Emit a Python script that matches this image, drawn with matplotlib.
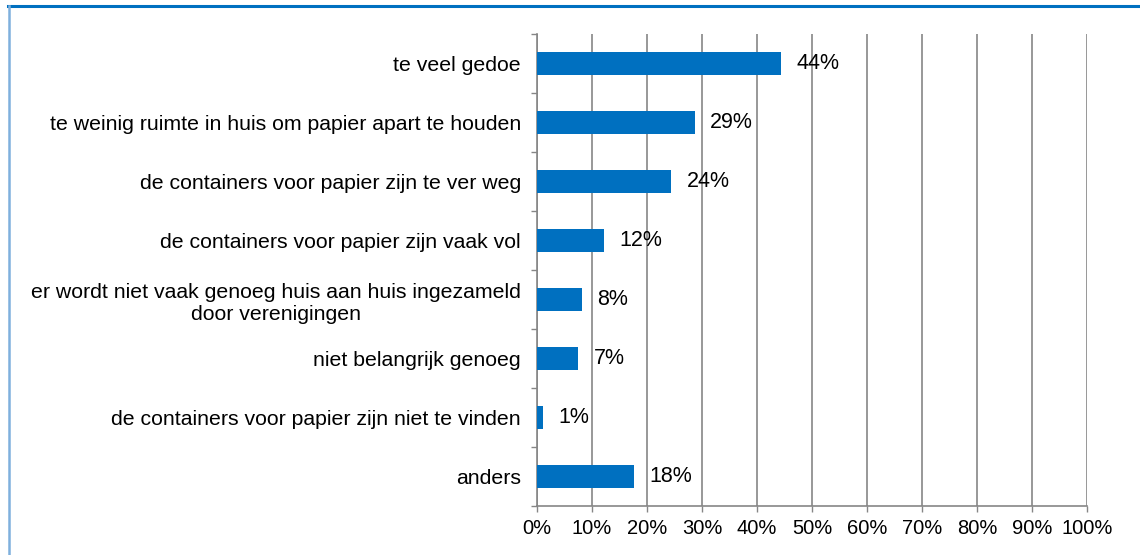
import matplotlib
matplotlib.use("Agg")
import matplotlib.pyplot as plt
import numpy as np
from matplotlib.lines import Line2D

categories = [
    "te veel gedoe",
    "te weinig ruimte in huis om papier apart te houden",
    "de containers voor papier zijn te ver weg",
    "de containers voor papier zijn vaak vol",
    "er wordt niet vaak genoeg huis aan huis ingezameld\ndoor verenigingen",
    "niet belangrijk genoeg",
    "de containers voor papier zijn niet te vinden",
    "anders",
]
values = [44.4, 28.7, 24.4, 12.2, 8.2, 7.5, 1.1, 17.6]
value_labels = ["44%", "29%", "24%", "12%", "8%", "7%", "1%", "18%"]
xticks = list(range(0, 101, 10))
xtick_labels = [f"{t}%" for t in xticks]

plt.rcParams['font.family'] = ['Liberation Sans', 'DejaVu Sans']

fig = plt.figure(figsize=(11.4, 5.55), dpi=100)
ax = fig.add_axes([537/1140, 1-506/555, 550/1140, 472/555])

n = len(categories)
y = np.arange(n)
ax.barh(y, values, height=0.39, color='#0070C0', zorder=3)
ax.set_ylim(n - 0.5, -0.5)
ax.set_xlim(0, 100)

ax.set_xticks(xticks)
ax.set_xticklabels(xtick_labels, fontsize=14.5)
ax.set_yticks(y)
ax.set_yticklabels(categories, fontsize=15.3, linespacing=1.2)
for lbl in ax.get_yticklabels():
    if "\n" in lbl.get_text():
        lbl.set_multialignment('center')
ax.tick_params(axis='y', length=0, pad=11.5)
ax.set_yticks(np.arange(-0.5, n, 1), minor=True)
ax.tick_params(axis='y', which='minor', length=4.5, color='#868686', width=1)
ax.tick_params(axis='x', length=4.5, color='#868686', width=1, pad=5)

ax.grid(axis='x', color='#868686', linewidth=1.2, zorder=0)
for s in ['top', 'right']:
    ax.spines[s].set_visible(False)
for s in ['left', 'bottom']:
    ax.spines[s].set_color('#868686')
    ax.spines[s].set_linewidth(1.2)

for yi, v, lab in zip(y, values, value_labels):
    ax.text(v + 2.8, yi, lab, va='center', ha='left', fontsize=15.5, zorder=4)

# outer border (top and left)
fig.add_artist(Line2D([8/1140, 1], [1-6/555, 1-6/555], transform=fig.transFigure, color='#0070C0', linewidth=2.2))
fig.add_artist(Line2D([8.5/1140, 8.5/1140], [0, 1-6/555], transform=fig.transFigure, color='#7FB0DD', linewidth=1.8))

fig.savefig('out.png', dpi=100)
